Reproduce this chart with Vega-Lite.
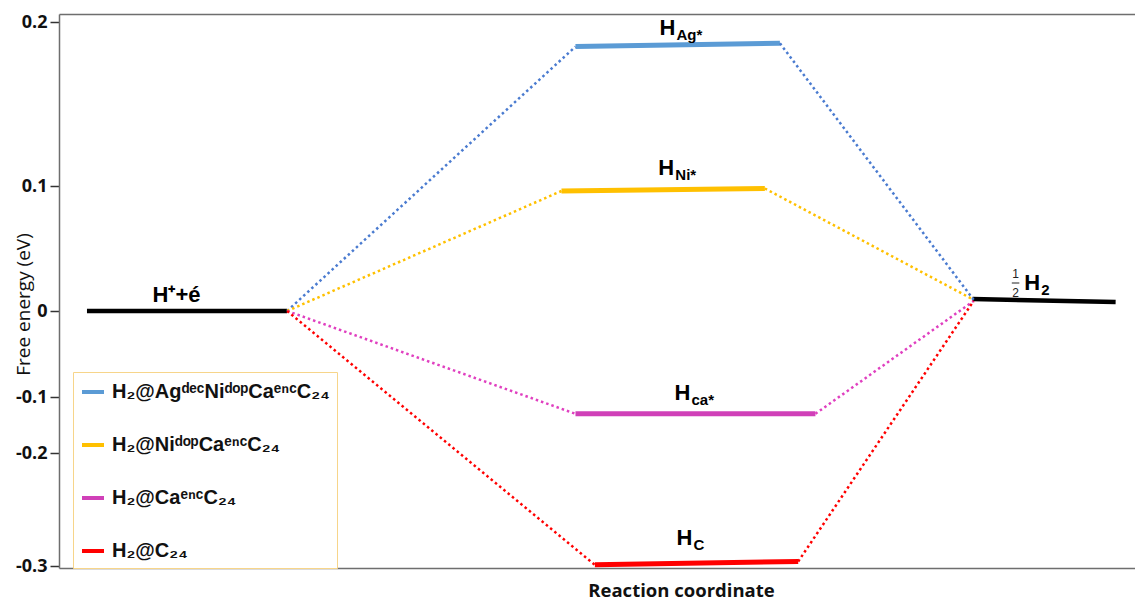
{
  "$schema": "https://vega.github.io/schema/vega-lite/v6.json",
  "autosize": {"type": "none"},
  "padding": {"left": 59, "top": 14, "right": 0, "bottom": 32},
  "width": 1076,
  "height": 554,
  "background": "white",
  "config": {
    "view": {"stroke": null},
    "axis": {"grid": false}
  },
  "datasets": {
    "levels": [
      {"series": "H₂@AgᵈᵉᶜNiᵈᵒᵖCaᵉⁿᶜC₂₄", "x": 48.0, "x2": 67.0, "y": 0.185, "y2": 0.187},
      {"series": "H₂@NiᵈᵒᵖCaᵉⁿᶜC₂₄", "x": 46.7, "x2": 65.6, "y": 0.096, "y2": 0.098},
      {"series": "H₂@CaᵉⁿᶜC₂₄", "x": 48.0, "x2": 70.3, "y": -0.130, "y2": -0.130},
      {"series": "H₂@C₂₄", "x": 49.8, "x2": 68.7, "y": -0.299, "y2": -0.296}
    ],
    "refs": [
      {"stage": "H+ + e", "x": 2.6, "x2": 21.2, "y": 0.0, "y2": 0.0},
      {"stage": "1/2 H2", "x": 84.9, "x2": 98.2, "y": 0.0096, "y2": 0.0072}
    ],
    "connectors": [
      {"series": "H₂@AgᵈᵉᶜNiᵈᵒᵖCaᵉⁿᶜC₂₄", "x": 21.2, "y": 0.0, "x2": 48.0, "y2": 0.185},
      {"series": "H₂@AgᵈᵉᶜNiᵈᵒᵖCaᵉⁿᶜC₂₄", "x": 67.0, "y": 0.187, "x2": 85.0, "y2": 0.009},
      {"series": "H₂@NiᵈᵒᵖCaᵉⁿᶜC₂₄", "x": 21.2, "y": 0.0, "x2": 46.7, "y2": 0.096},
      {"series": "H₂@NiᵈᵒᵖCaᵉⁿᶜC₂₄", "x": 65.6, "y": 0.098, "x2": 85.0, "y2": 0.009},
      {"series": "H₂@CaᵉⁿᶜC₂₄", "x": 21.2, "y": 0.0, "x2": 48.0, "y2": -0.130},
      {"series": "H₂@CaᵉⁿᶜC₂₄", "x": 70.3, "y": -0.130, "x2": 85.0, "y2": 0.008},
      {"series": "H₂@C₂₄", "x": 21.2, "y": 0.0, "x2": 49.8, "y2": -0.299},
      {"series": "H₂@C₂₄", "x": 68.7, "y": -0.296, "x2": 85.0, "y2": 0.008}
    ],
    "labels": [
      {"main": "H", "sub": "Ag*", "x": 55.8, "y": 0.192},
      {"main": "H", "sub": "Ni*", "x": 55.7, "y": 0.107},
      {"main": "H", "sub": "ca*", "x": 57.2, "y": -0.105},
      {"main": "H", "sub": "C", "x": 57.4, "y": -0.281},
      {"main": "H⁺+é", "sub": "", "x": 8.7, "y": 0.0072},
      {"main": "H", "sub": "2", "x": 89.7, "y": 0.0168}
    ],
    "fraction": [
      {"t": "1", "x": 88.9, "y": 0.0264},
      {"t": "2", "x": 88.9, "y": 0.0112}
    ],
    "fracbar": [
      {"x": 88.55, "x2": 89.25, "y": 0.0224}
    ]
  },
  "resolve": {"axis": {"x": "independent"}},
  "layer": [
    {
      "data": {"name": "levels"},
      "mark": {"type": "rule", "strokeWidth": 5, "strokeCap": "butt"},
      "encoding": {
        "x": {
          "field": "x", "type": "quantitative",
          "scale": {"domain": [0, 100], "nice": false, "zero": false},
          "axis": {
            "title": "Reaction coordinate",
            "labels": false, "ticks": false,
            "domainColor": "#6e6e6e", "domainWidth": 1.5,
            "titleFont": "Open Sans", "titleFontSize": 18.5, "titleFontWeight": "bold",
            "titleColor": "#111111",
            "titleX": 622, "titleY": 28, "titleBaseline": "alphabetic"
          }
        },
        "x2": {"field": "x2"},
        "y": {
          "field": "y", "type": "quantitative",
          "scale": {
            "domain": [-0.302, -0.3, -0.2, -0.1, 0, 0.1, 0.2, 0.2049],
            "range": [554, 552, 439, 383, 297, 172, 8, 0]
          },
          "axis": {
            "title": "Free energy (eV)",
            "values": [-0.3, -0.2, -0.1, 0, 0.1, 0.2],
            "labelExpr": "datum.value < 0 ? '-' + format(-datum.value, '~g') : format(datum.value, '~g')",
            "labelFont": "Open Sans", "labelFontSize": 18, "labelFontWeight": "bold",
            "labelColor": "#111111", "labelPadding": 3,
            "tickSize": 9, "tickColor": "#333333", "tickWidth": 1.5,
            "domainColor": "#6e6e6e", "domainWidth": 1.5,
            "titleFont": "Open Sans", "titleFontSize": 19, "titleFontWeight": "normal",
            "titleColor": "#111111",
            "titleX": -36, "titleY": 290, "titleBaseline": "middle", "titleAngle": -90
          }
        },
        "y2": {"field": "y2"},
        "color": {
          "field": "series", "type": "nominal",
          "scale": {
            "domain": ["H₂@AgᵈᵉᶜNiᵈᵒᵖCaᵉⁿᶜC₂₄", "H₂@NiᵈᵒᵖCaᵉⁿᶜC₂₄", "H₂@CaᵉⁿᶜC₂₄", "H₂@C₂₄"],
            "range": ["#5b9bd5", "#ffc000", "#d040b8", "#ff0000"]
          },
          "legend": {
            "title": null,
            "orient": "none", "legendX": 14, "legendY": 358,
            "strokeColor": "#f7d58a", "fillColor": "white",
            "padding": 7,
            "symbolType": "stroke", "symbolSize": 484, "symbolStrokeWidth": 4,
            "labelFont": "Liberation Sans", "labelFontSize": 20, "labelFontWeight": "bold",
            "labelColor": "#111111", "labelOffset": 6,
            "rowPadding": 30, "labelLimit": 400
          }
        }
      }
    },
    {
      "data": {"name": "refs"},
      "mark": {"type": "rule", "strokeWidth": 4.5, "color": "black", "strokeCap": "butt"},
      "encoding": {
        "x": {
          "field": "x", "type": "quantitative",
          "axis": {
            "orient": "top", "title": null, "labels": false, "ticks": false,
            "domainColor": "#6e6e6e", "domainWidth": 1.5
          }
        },
        "x2": {"field": "x2"},
        "y": {"field": "y", "type": "quantitative"},
        "y2": {"field": "y2"}
      }
    },
    {
      "data": {"name": "connectors"},
      "mark": {"type": "rule", "strokeWidth": 2.5, "strokeDash": [2.5, 3]},
      "encoding": {
        "x": {"field": "x", "type": "quantitative", "axis": null},
        "x2": {"field": "x2"},
        "y": {"field": "y", "type": "quantitative"},
        "y2": {"field": "y2"},
        "stroke": {
          "field": "series", "type": "nominal",
          "scale": {
            "domain": ["H₂@AgᵈᵉᶜNiᵈᵒᵖCaᵉⁿᶜC₂₄", "H₂@NiᵈᵒᵖCaᵉⁿᶜC₂₄", "H₂@CaᵉⁿᶜC₂₄", "H₂@C₂₄"],
            "range": ["#4a7bd0", "#ffc000", "#e040c0", "#ff0000"]
          },
          "legend": null
        }
      }
    },
    {
      "data": {"name": "labels"},
      "mark": {"type": "text", "align": "left", "baseline": "alphabetic", "font": "Liberation Sans", "fontSize": 22, "fontWeight": "bold", "color": "black"},
      "encoding": {
        "x": {"field": "x", "type": "quantitative", "axis": null},
        "y": {"field": "y", "type": "quantitative"},
        "text": {"field": "main"}
      }
    },
    {
      "data": {"name": "labels"},
      "mark": {"type": "text", "align": "left", "baseline": "alphabetic", "dx": 17, "dy": 5, "font": "Liberation Sans", "fontSize": 15, "fontWeight": "bold", "color": "black"},
      "encoding": {
        "x": {"field": "x", "type": "quantitative", "axis": null},
        "y": {"field": "y", "type": "quantitative"},
        "text": {"field": "sub"}
      }
    },
    {
      "data": {"name": "fraction"},
      "mark": {"type": "text", "align": "center", "baseline": "alphabetic", "font": "Liberation Sans", "fontSize": 12, "color": "#222222"},
      "encoding": {
        "x": {"field": "x", "type": "quantitative", "axis": null},
        "y": {"field": "y", "type": "quantitative"},
        "text": {"field": "t"}
      }
    },
    {
      "data": {"name": "fracbar"},
      "mark": {"type": "rule", "strokeWidth": 1, "color": "#222222"},
      "encoding": {
        "x": {"field": "x", "type": "quantitative", "axis": null},
        "x2": {"field": "x2"},
        "y": {"field": "y", "type": "quantitative"}
      }
    }
  ]
}
